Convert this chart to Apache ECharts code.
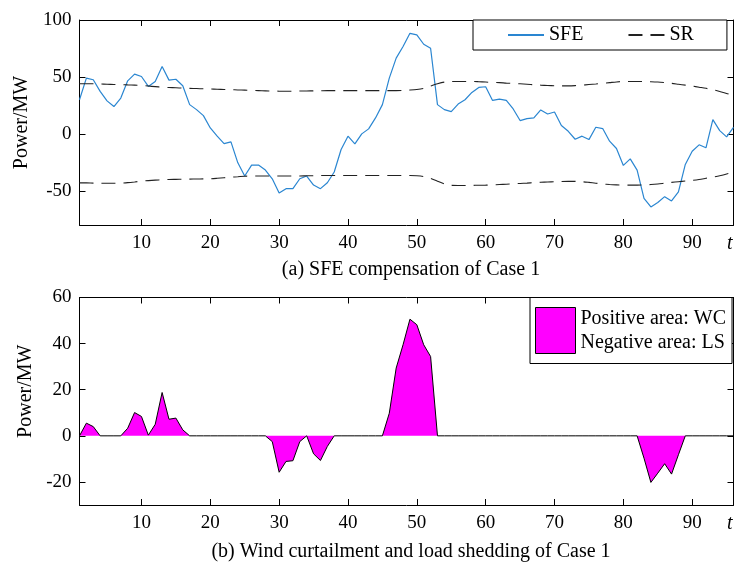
<!DOCTYPE html>
<html>
<head>
<meta charset="utf-8">
<script src="https://cdn.jsdelivr.net/npm/echarts@6/dist/echarts.min.js"></script>
<style>html,body{margin:0;padding:0;background:#fff}#c{width:737px;height:565px}</style>
</head>
<body>
<div id="c"></div>
<script>
// time steps
const tSteps = Array.from({length: 96}, (_, i) => i + 1);
const xTicks = [10, 20, 30, 40, 50, 60, 70, 80, 90];
const yTicksTop = [-50, 0, 50, 100];
const yTicksBottom = [-20, 0, 20, 40, 60];

// (a) SFE compensation
const sfe = [
  30, 49, 47.5, 37.3, 29, 24, 31.5, 46.6, 52.5, 50.4,
  41.7, 46, 59.2, 47.2, 48, 42.3, 25.7, 21.3, 16, 5.2,
  -2, -8.5, -7, -25.4, -37, -27.4, -27.4, -31.8, -39.4, -51.9,
  -48.1, -48.1, -39.4, -37, -44.9, -48.1, -42.9, -33.5, -13.7, -2,
  -8.7, 0, 4.4, 14, 25.7, 49, 66.5, 76.7, 88.3, 86.9,
  78.7, 75.2, 25.7, 21.3, 19.5, 26.2, 30, 36.4, 40.8, 41.4,
  29.4, 30.6, 29.4, 21.9, 11.7, 13.4, 14, 21, 17.5, 19.2,
  7.3, 2.3, -4.7, -2, -5, 5.8, 4.7, -6.4, -12.8, -27.7,
  -21.9, -31.8, -56.6, -64.1, -60.3, -55.1, -58.9, -51, -26.8, -15.2,
  -9.6, -12.2, 12.5, 2.9, -2.6, 5.8
];
const srUpper = [
  44, 44, 44, 43.8, 43.6, 43.4, 43.2, 43, 42.8, 42.5,
  42, 41.5, 41, 40.7, 40.5, 40.2, 40, 39.8, 39.6, 39.4,
  39.2, 39, 38.8, 38.6, 38.4, 38.2, 38, 37.8, 37.6, 37.5,
  37.5, 37.5, 37.6, 37.7, 37.8, 37.9, 38, 38, 38, 38,
  38, 38, 38, 38, 38, 38, 38, 38.2, 38.5, 39,
  40, 42, 44, 45.5, 46, 46, 46, 46, 45.8, 45.5,
  45.2, 45, 44.6, 44.3, 44, 43.6, 43.2, 42.8, 42.5, 42.3,
  42.2, 42.2, 42.4, 42.8, 43.3, 43.8, 44.4, 45, 45.6, 46,
  46, 46, 46, 45.8, 45.5, 45, 44.4, 43.6, 42.8, 42,
  41, 40, 38.8, 37.2, 35.5, 33.5
];
const srLower = [
  -43, -43, -43.2, -43.3, -43.4, -43.4, -43.2, -42.8, -42.2, -41.5,
  -41, -40.6, -40.3, -40, -39.9, -39.8, -39.7, -39.6, -39.5, -39.4,
  -39, -38.5, -38, -37.6, -37.2, -37, -37, -37, -37, -37,
  -37, -37, -37, -36.8, -36.7, -36.6, -36.5, -36.5, -36.5, -36.5,
  -36.5, -36.5, -36.5, -36.5, -36.5, -36.5, -36.5, -36.5, -36.5, -36.8,
  -37.5, -39, -41.5, -44, -45.2, -45.3, -45.3, -45.2, -45.1, -45,
  -44.8, -44.5, -44.2, -43.8, -43.5, -43.2, -42.8, -42.5, -42.2, -42,
  -41.8, -41.7, -41.7, -42, -42.6, -43.3, -44, -44.5, -44.8, -45,
  -45, -45, -44.8, -44.5, -44, -43.3, -42.6, -42, -41.4, -40.8,
  -40, -39, -38, -36.8, -35.2, -33.2
];

// (b) wind curtailment (+) and load shedding (-)
const wcls = [
  0, 5.5, 4, 0, 0, 0, 0, 3.3, 10.1, 8.4,
  0.3, 5, 18.8, 7.2, 7.7, 2.6, 0, 0, 0, 0,
  0, 0, 0, 0, 0, 0, 0, 0, -2.5, -15.8,
  -11.1, -10.8, -2.5, 0, -7.8, -10.7, -4.6, 0, 0, 0,
  0, 0, 0, 0, 0, 9.8, 29.4, 39.5, 50.6, 48.2,
  39.5, 34.4, 0, 0, 0, 0, 0, 0, 0, 0,
  0, 0, 0, 0, 0, 0, 0, 0, 0, 0,
  0, 0, 0, 0, 0, 0, 0, 0, 0, 0,
  0, 0, -9.7, -20.2, -16.2, -12.1, -16.6, -8.2, 0, 0,
  0, 0, 0, 0, 0, 0
];

const FONT = 'Liberation Serif';
const pair = arr => tSteps.map((t, i) => [t, arr[i]]);

function xAx(grid, pos, show) {
  return {
    type: 'value', gridIndex: grid, position: pos, min: 1, max: 96,
    axisLine: {show: true, onZero: false, lineStyle: {color: '#000', width: 1}},
    axisTick: {show: true, inside: true, length: 6, customValues: xTicks, lineStyle: {color: '#000'}},
    axisLabel: {show: show, customValues: xTicks, margin: 9, color: '#000', fontFamily: FONT, fontSize: 19},
    splitLine: {show: false}
  };
}
function yAx(grid, pos, show, min, max, ticks, namePad) {
  return {
    type: 'value', gridIndex: grid, position: pos, min: min, max: max,
    name: show ? 'Power/MW' : '', nameLocation: 'middle', nameGap: 42, nameRotate: 90,
    nameTextStyle: {color: '#000', fontFamily: FONT, fontSize: 20, padding: namePad || 0},
    axisLine: {show: true, onZero: false, lineStyle: {color: '#000', width: 1}},
    axisTick: {show: true, inside: true, length: 6, customValues: ticks, lineStyle: {color: '#000'}},
    axisLabel: {show: show, customValues: ticks, margin: 8, color: '#000', fontFamily: FONT, fontSize: 19},
    splitLine: {show: false}
  };
}

const chart = echarts.init(document.getElementById('c'), null, {renderer: 'canvas'});
chart.setOption({
  animation: false,
  backgroundColor: '#fff',
  textStyle: {fontFamily: FONT},
  grid: [
    {left: 79.5, right: 3.5, top: 20, height: 205},
    {left: 79.5, right: 3.5, top: 297.5, height: 207.5}
  ],
  xAxis: [xAx(0, 'bottom', true), xAx(0, 'top', false), xAx(1, 'bottom', true), xAx(1, 'top', false)],
  yAxis: [
    yAx(0, 'left', true, -80, 100, yTicksTop), yAx(0, 'right', false, -80, 100, yTicksTop),
    yAx(1, 'left', true, -30, 60, yTicksBottom, [0, 0, 0, 20]), yAx(1, 'right', false, -30, 60, yTicksBottom)
  ],
  title: [
    {text: '(a) SFE compensation of Case 1', left: 406, top: 255, textAlign: 'center',
     textStyle: {color: '#000', fontFamily: FONT, fontSize: 20, fontWeight: 'normal'}},
    {text: '(b) Wind curtailment and load shedding of Case 1', left: 406, top: 537, textAlign: 'center',
     textStyle: {color: '#000', fontFamily: FONT, fontSize: 20, fontWeight: 'normal'}}
  ],
  legend: [
    {data: ['SFE', 'SR'], left: 473, top: 20, orient: 'horizontal',
     itemWidth: 36, itemHeight: 10, itemGap: 44,
     padding: [4, 33, 4, 34], borderColor: '#000', borderWidth: 1, backgroundColor: '#fff',
     itemStyle: {opacity: 0},
     textStyle: {color: '#000', fontFamily: FONT, fontSize: 20, lineHeight: 22}},
    {data: [{name: 'WCLS', icon: 'rect'}], left: 530, top: 297.5,
     itemWidth: 40, itemHeight: 46, padding: [9, 6, 9, 5],
     borderColor: '#000', borderWidth: 1, backgroundColor: '#fff',
     itemStyle: {color: '#ff00ff', borderColor: '#000', borderWidth: 1},
     formatter: () => 'Positive area: WC\nNegative area: LS',
     textStyle: {color: '#000', fontFamily: FONT, fontSize: 20, lineHeight: 24}}
  ],
  graphic: [
    {type: 'text', left: 727, top: 234, style: {text: 't', fill: '#000', fontFamily: FONT, fontSize: 20, fontStyle: 'italic'}},
    {type: 'text', left: 727, top: 514, style: {text: 't', fill: '#000', fontFamily: FONT, fontSize: 20, fontStyle: 'italic'}}
  ],
  series: [
    {name: 'SFE', type: 'line', xAxisIndex: 0, yAxisIndex: 0, data: pair(sfe), symbol: 'none',
     lineStyle: {color: '#2a86d1', width: 1.2}, itemStyle: {color: '#2a86d1'}},
    {name: 'SR', type: 'line', xAxisIndex: 0, yAxisIndex: 0, data: pair(srUpper), symbol: 'none', smooth: 0.3,
     lineStyle: {color: '#222', width: 1.1, type: [14, 8]}, itemStyle: {color: '#222'}},
    {name: 'SR', type: 'line', xAxisIndex: 0, yAxisIndex: 0, data: pair(srLower), symbol: 'none', smooth: 0.3,
     lineStyle: {color: '#222', width: 1.1, type: [14, 8]}, itemStyle: {color: '#222'}},
    {name: 'WCLS', type: 'line', xAxisIndex: 2, yAxisIndex: 2, data: pair(wcls), symbol: 'none',
     lineStyle: {color: '#000', width: 1}, itemStyle: {color: '#ff00ff'},
     areaStyle: {color: '#ff00ff', opacity: 1, origin: 0}}
  ]
});
</script>
</body>
</html>
